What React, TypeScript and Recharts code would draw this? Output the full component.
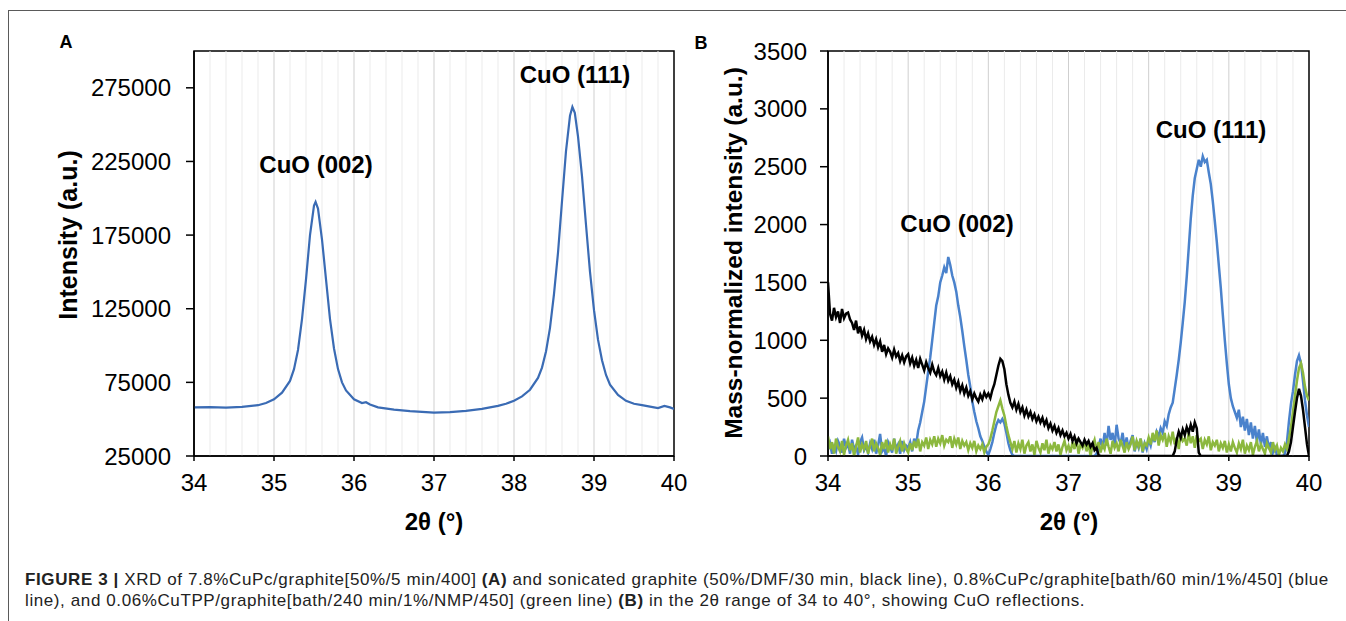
import React from "react";
import { LineChart, Line, XAxis, YAxis, ReferenceLine, ReferenceArea } from "recharts";

// panel A: 7.8%CuPc/graphite
const thetaA = [34.0, 34.2, 34.4, 34.6, 34.8, 34.9, 35.0, 35.1, 35.2, 35.25, 35.3, 35.35, 35.4, 35.45, 35.5, 35.52, 35.55, 35.6, 35.65, 35.7, 35.75, 35.8, 35.85, 35.9, 36.0, 36.1, 36.15, 36.2, 36.3, 36.5, 36.7, 36.9, 37.0, 37.2, 37.4, 37.6, 37.8, 37.9, 38.0, 38.1, 38.2, 38.3, 38.35, 38.4, 38.45, 38.5, 38.55, 38.6, 38.65, 38.7, 38.73, 38.76, 38.8, 38.85, 38.9, 38.95, 39.0, 39.05, 39.1, 39.15, 39.2, 39.3, 39.4, 39.5, 39.6, 39.7, 39.8, 39.88, 39.95, 40.0];
const intensityA = [58000, 58200, 57900, 58300, 59500, 61000, 63500, 68000, 76000, 84000, 97000, 118000, 145000, 175000, 195000, 197500, 193000, 172000, 145000, 118000, 98000, 84000, 75000, 69500, 63500, 61000, 61500, 60000, 58000, 56500, 55500, 54800, 54500, 54800, 55600, 57000, 59000, 60500, 62500, 65500, 70000, 78000, 85000, 96000, 112000, 135000, 163000, 198000, 232000, 256000, 262000, 258000, 242000, 215000, 182000, 150000, 124000, 104000, 90000, 80000, 73500, 66500, 62500, 60500, 59500, 58500, 57500, 59000, 58000, 57000];

// panel B: mass-normalized patterns, one row per degree
const thetaB = [
  34, 34.025, 34.05, 34.075, 34.1, 34.125, 34.15, 34.175, 34.2, 34.225, 34.25, 34.275, 34.3, 34.325, 34.35, 34.375, 34.4, 34.425, 34.45, 34.475,
  34.5, 34.525, 34.55, 34.575, 34.6, 34.625, 34.65, 34.675, 34.7, 34.725, 34.75, 34.775, 34.8, 34.825, 34.85, 34.875, 34.9, 34.925, 34.95, 34.975,
  35, 35.025, 35.05, 35.075, 35.1, 35.125, 35.15, 35.175, 35.2, 35.225, 35.25, 35.275, 35.3, 35.325, 35.35, 35.375, 35.4, 35.425, 35.45, 35.475,
  35.5, 35.525, 35.55, 35.575, 35.6, 35.625, 35.65, 35.675, 35.7, 35.725, 35.75, 35.775, 35.8, 35.825, 35.85, 35.875, 35.9, 35.925, 35.95, 35.975,
  36, 36.025, 36.05, 36.075, 36.1, 36.125, 36.15, 36.175, 36.2, 36.225, 36.25, 36.275, 36.3, 36.325, 36.35, 36.375, 36.4, 36.425, 36.45, 36.475,
  36.5, 36.525, 36.55, 36.575, 36.6, 36.625, 36.65, 36.675, 36.7, 36.725, 36.75, 36.775, 36.8, 36.825, 36.85, 36.875, 36.9, 36.925, 36.95, 36.975,
  37, 37.025, 37.05, 37.075, 37.1, 37.125, 37.15, 37.175, 37.2, 37.225, 37.25, 37.275, 37.3, 37.325, 37.35, 37.375, 37.4, 37.425, 37.45, 37.475,
  37.5, 37.525, 37.55, 37.575, 37.6, 37.625, 37.65, 37.675, 37.7, 37.725, 37.75, 37.775, 37.8, 37.825, 37.85, 37.875, 37.9, 37.925, 37.95, 37.975,
  38, 38.025, 38.05, 38.075, 38.1, 38.125, 38.15, 38.175, 38.2, 38.225, 38.25, 38.275, 38.3, 38.325, 38.35, 38.375, 38.4, 38.425, 38.45, 38.475,
  38.5, 38.525, 38.55, 38.575, 38.6, 38.625, 38.65, 38.675, 38.7, 38.725, 38.75, 38.775, 38.8, 38.825, 38.85, 38.875, 38.9, 38.925, 38.95, 38.975,
  39, 39.025, 39.05, 39.075, 39.1, 39.125, 39.15, 39.175, 39.2, 39.225, 39.25, 39.275, 39.3, 39.325, 39.35, 39.375, 39.4, 39.425, 39.45, 39.475,
  39.5, 39.525, 39.55, 39.575, 39.6, 39.625, 39.65, 39.675, 39.7, 39.725, 39.75, 39.775, 39.8, 39.825, 39.85, 39.875, 39.9, 39.925, 39.95, 39.975,
  40,
];
// sonicated graphite (black)
const sonicated = [
  1500, 1230, 1170, 1280, 1200, 1250, 1150, 1270, 1190, 1230, 1240, 1180, 1150, 1090, 1170, 1060, 1120, 1040, 1090, 1010,
  1060, 990, 1030, 960, 1010, 940, 990, 900, 960, 880, 930, 900, 850, 920, 860, 890, 820, 870, 810, 860,
  880, 800, 850, 780, 830, 760, 840, 790, 740, 810, 760, 720, 790, 730, 700, 760, 690, 730, 660, 720,
  650, 690, 620, 660, 590, 640, 560, 610, 540, 590, 520, 560, 490, 540, 500, 470, 530, 490, 550, 510,
  540, 500, 570, 620, 700, 780, 840, 820, 750, 620, 530, 460, 420, 470, 400, 450, 380, 420, 350, 400,
  340, 380, 320, 360, 300, 340, 290, 330, 270, 310, 240, 280, 220, 260, 200, 240, 180, 220, 170, 200,
  150, 190, 130, 170, 110, 150, 120, 90, 140, 100, 130, 80, 110, 50, 70, 10, 0, 0, 0, 0,
  0, 0, 0, 0, 0, 0, 0, 0, 0, 0, 0, 0, 0, 0, 0, 0, 0, 0, 0, 0,
  0, 0, 0, 0, 0, 0, 0, 0, 0, 0, 0, 0, 0, 40, 140, 210, 160, 230, 180, 250,
  200, 270, 210, 290, 240, 30, 0, 0, 0, 0, 0, 0, 0, 0, 0, 0, 0, 0, 0, 0,
  0, 0, 0, 0, 0, 0, 0, 0, 0, 0, 0, 0, 0, 0, 0, 0, 0, 0, 0, 0,
  0, 0, 0, 0, 0, 0, 0, 0, 0, 0, 40, 120, 250, 380, 500, 580, 520, 400, 250, 100,
  0,
];
// 0.8%CuPc/graphite (blue)
const cupc = [
  60, 110, 20, 80, 40, 130, 90, 30, 150, 70, 100, 20, 140, 60, 90, 10, 120, 160, 50, 80,
  30, 110, 60, 140, 20, 90, 190, 40, 70, 0, 120, 80, 30, 150, 60, 100, 20, 130, 50, 90,
  70, 120, 40, 150, 100, 220, 290, 380, 470, 600, 730, 850, 1000, 1150, 1300, 1380, 1500, 1560, 1630, 1580,
  1720, 1650, 1560, 1500, 1420, 1300, 1200, 1080, 950, 830, 700, 600, 470, 380, 300, 240, 170, 130, 80, 40,
  10, 60, 120, 200, 270, 310, 290, 320, 280, 200, 110, 50, 10, 0, 0, 0, 0, 0, 0, 0,
  0, 0, 0, 0, 0, 0, 0, 0, 0, 0, 0, 0, 0, 0, 0, 0, 0, 0, 0, 0,
  0, 0, 0, 0, 0, 0, 0, 0, 0, 0, 0, 0, 0, 0, 20, 80, 150, 60, 200, 90,
  260, 140, 200, 80, 270, 150, 110, 200, 70, 160, 60, 130, 180, 40, 120, 70, 150, 30, 110, 60,
  140, 90, 180, 120, 210, 170, 240, 200, 300, 260, 360, 420, 460, 580, 700, 830, 980, 1150, 1330, 1550,
  1800, 2050, 2250, 2400, 2480, 2560, 2500, 2590, 2540, 2560, 2450, 2350, 2200, 2030, 1850, 1650, 1450, 1220, 1000, 800,
  620, 500, 430, 380, 330, 400, 250, 340, 220, 320, 180, 290, 150, 260, 120, 230, 100, 200, 80, 170,
  60, 120, 30, 70, 10, 0, 0, 0, 20, 120, 300, 450, 560, 700, 820, 870, 800, 650, 480, 350,
  250,
];
// 0.06%CuTPP/graphite (green)
const cutpp = [
  170, 60, 120, 20, 150, 80, 40, 130, 10, 90, 140, 50, 110, 0, 80, 160, 30, 100, 60, 130,
  20, 90, 150, 40, 110, 70, 10, 120, 60, 140, 30, 100, 50, 150, 20, 80, 130, 40, 110, 60,
  30, 110, 50, 130, 70, 150, 40, 120, 90, 160, 60, 140, 100, 170, 80, 150, 110, 180, 90, 140,
  120, 170, 70, 150, 100, 160, 60, 130, 90, 120, 50, 110, 70, 130, 40, 90, 60, 100, 30, 80,
  100, 150, 220, 300, 380, 430, 480, 410, 350, 260, 180, 120, 60, 130, 30, 110, 60, 140, 20, 90,
  120, 40, 100, 10, 130, 70, 30, 110, 50, 140, 20, 90, 60, 120, 40, 100, 10, 80, 130, 50,
  90, 30, 120, 60, 150, 20, 100, 70, 130, 40, 110, 0, 90, 140, 50, 120, 30, 100, 60, 150,
  80, 20, 130, 70, 110, 40, 140, 90, 30, 120, 60, 100, 170, 50, 130, 80, 150, 40, 110, 90,
  160, 100, 200, 130, 220, 90, 180, 140, 200, 80, 170, 120, 210, 100, 160, 60, 190, 130, 150, 90,
  200, 110, 170, 70, 180, 130, 150, 60, 140, 100, 170, 50, 120, 90, 140, 40, 110, 70, 130, 30,
  100, 40, 120, 70, 30, 110, 60, 140, 20, 90, 50, 120, 10, 80, 130, 40, 100, 60, 20, 110,
  70, 30, 120, 50, 90, 10, 70, 40, 100, 60, 150, 250, 380, 520, 650, 760, 800, 720, 600, 520,
  480,
];

const xTicks = [34, 35, 36, 37, 38, 39, 40];
const yTicksA = [25000, 75000, 125000, 175000, 225000, 275000];
const yTicksB = [0, 500, 1000, 1500, 2000, 2500, 3000, 3500];
const majorGrid = [35, 36, 37, 38, 39];
const minorGrid = [
  34.2, 34.4, 34.6, 34.8, 35.2, 35.4, 35.6, 35.8, 36.2, 36.4, 36.6, 36.8,
  37.2, 37.4, 37.6, 37.8, 38.2, 38.4, 38.6, 38.8, 39.2, 39.4, 39.6, 39.8,
];

const dataA = thetaA.map((t, i) => ({ theta: t, intensity: intensityA[i] }));
const dataB = thetaB.map((t, i) => ({ theta: t, black: sonicated[i], blue: cupc[i], green: cutpp[i] }));

const font = "'Liberation Sans', Arial, sans-serif";
const tickStyle = { fill: "#000", fontSize: 24, fontFamily: font };
const axisStroke = { stroke: "#000", strokeWidth: 1.5 };

const abs = (left: number, top: number, extra: React.CSSProperties = {}): React.CSSProperties => ({
  position: "absolute",
  left,
  top,
  transform: "translate(-50%, -50%)",
  whiteSpace: "nowrap",
  fontFamily: font,
  fontWeight: 700,
  color: "#000",
  lineHeight: 1,
  ...extra,
});

function gridLines() {
  return [
    ...minorGrid.map((v) => <ReferenceLine key={"mi" + v} x={v} stroke="#ebebeb" strokeWidth={1} />),
    ...majorGrid.map((v) => <ReferenceLine key={"ma" + v} x={v} stroke="#cfcfcf" strokeWidth={1} />),
  ];
}

export default function App() {
  return (
    <div style={{ position: "absolute", left: 0, top: 0, width: 1346, height: 621, background: "#fff", overflow: "hidden" }}>
      <div style={{ position: "absolute", left: 8, top: 10, width: 1338, height: 611, borderTop: "1.5px solid #5a5a5a", borderLeft: "1.5px solid #5a5a5a" }} />

      <div style={{ position: "absolute", left: 0, top: 0 }}>
        <LineChart width={700} height={540} data={dataA} margin={{ top: 51, right: 26, bottom: 54, left: 0 }}>
          {gridLines()}
          <XAxis dataKey="theta" type="number" domain={[34, 40]} ticks={xTicks} interval={0} allowDataOverflow
            height={30} tickSize={5} tickMargin={13} axisLine={axisStroke} tickLine={axisStroke} tick={tickStyle} />
          <YAxis type="number" domain={[25000, 300000]} ticks={yTicksA} interval={0} allowDataOverflow
            width={194} tickSize={8} tickMargin={15} axisLine={axisStroke} tickLine={axisStroke} tick={tickStyle} />
          <Line type="linear" dataKey="intensity" stroke="#3a6bb4" strokeWidth={2.2} dot={false} isAnimationActive={false} />
          <ReferenceArea x1={34} x2={40} y1={25000} y2={300000} fill="none" stroke="#000" strokeWidth={1.5} />
        </LineChart>
      </div>

      <div style={{ position: "absolute", left: 680, top: 0 }}>
        <LineChart width={666} height={540} data={dataB} margin={{ top: 51, right: 37, bottom: 54, left: 0 }}>
          {gridLines()}
          <XAxis dataKey="theta" type="number" domain={[34, 40]} ticks={xTicks} interval={0} allowDataOverflow
            height={30} tickSize={5} tickMargin={13} axisLine={axisStroke} tickLine={axisStroke} tick={tickStyle} />
          <YAxis type="number" domain={[0, 3500]} ticks={yTicksB} interval={0} allowDataOverflow
            width={148} tickSize={8} tickMargin={13} axisLine={axisStroke} tickLine={axisStroke} tick={tickStyle} />
          <Line type="linear" dataKey="blue" stroke="#4a82cc" strokeWidth={2.5} dot={false} isAnimationActive={false} />
          <Line type="linear" dataKey="green" stroke="#8cb83e" strokeWidth={2.5} dot={false} isAnimationActive={false} />
          <Line type="linear" dataKey="black" stroke="#000" strokeWidth={2.5} dot={false} isAnimationActive={false} />
          <ReferenceArea x1={34} x2={40} y1={0} y2={3500} fill="none" stroke="#000" strokeWidth={1.5} />
        </LineChart>
      </div>

      <div style={abs(66, 42, { fontSize: 18 })}>A</div>
      <div style={abs(701, 43, { fontSize: 18 })}>B</div>

      <div style={abs(68, 235, { fontSize: 25, transform: "translate(-50%, -50%) rotate(-90deg)" })}>Intensity (a.u.)</div>
      <div style={abs(734, 253, { fontSize: 24.5, transform: "translate(-50%, -50%) rotate(-90deg)" })}>Mass-normalized intensity (a.u.)</div>
      <div style={abs(434, 522, { fontSize: 24 })}>2θ (°)</div>
      <div style={abs(1069, 522, { fontSize: 24 })}>2θ (°)</div>

      <div style={abs(316, 165, { fontSize: 24 })}>CuO (002)</div>
      <div style={abs(575, 75, { fontSize: 24 })}>CuO (111)</div>
      <div style={abs(957, 224, { fontSize: 24 })}>CuO (002)</div>
      <div style={abs(1211, 130, { fontSize: 24 })}>CuO (111)</div>

      <div style={{ position: "absolute", left: 25, top: 569, fontFamily: font, fontSize: 17, letterSpacing: 0.6, lineHeight: "21px", color: "#222", whiteSpace: "nowrap" }}>
        <b>FIGURE 3 |</b> XRD of 7.8%CuPc/graphite[50%/5 min/400] <b>(A)</b> and sonicated graphite (50%/DMF/30 min, black line), 0.8%CuPc/graphite[bath/60 min/1%/450] (blue
        <br />
        line), and 0.06%CuTPP/graphite[bath/240 min/1%/NMP/450] (green line) <b>(B)</b> in the 2θ range of 34 to 40°, showing CuO reflections.
      </div>
    </div>
  );
}
